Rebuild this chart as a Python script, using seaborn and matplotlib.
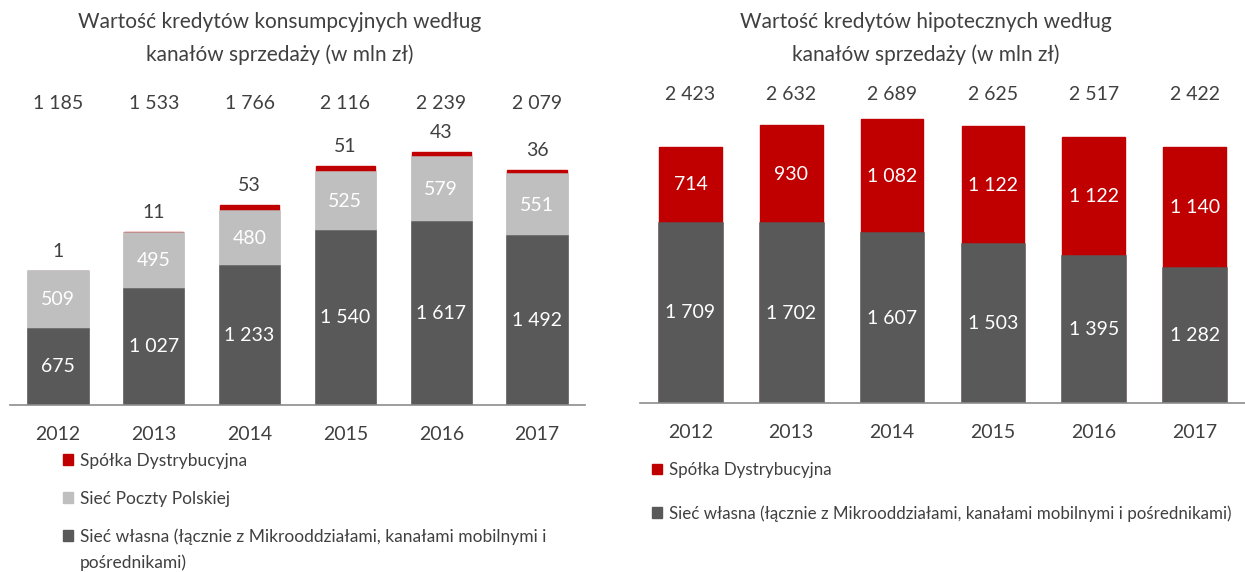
import matplotlib
matplotlib.use("Agg")
import matplotlib.pyplot as plt
import seaborn as sns
import numpy as np
from matplotlib.patches import Patch

years = ["2012", "2013", "2014", "2015", "2016", "2017"]

# kredyty konsumpcyjne
kons_wlasna = [675, 1027, 1233, 1540, 1617, 1492]
kons_poczta = [509, 495, 480, 525, 579, 551]
kons_spolka = [1, 11, 53, 51, 43, 36]
kons_total = [1185, 1533, 1766, 2116, 2239, 2079]

# kredyty hipoteczne
hip_wlasna = [1709, 1702, 1607, 1503, 1395, 1282]
hip_spolka = [714, 930, 1082, 1122, 1122, 1140]
hip_total = [2423, 2632, 2689, 2625, 2517, 2422]

RED = "#C00000"
LIGHT = "#BFBFBF"
DARK = "#595959"
TXT = "#404040"

sns.set_style("white")
plt.rcParams["font.family"] = ["Lato", "DejaVu Sans"]


def fmt(v):
    return f"{v:,}".replace(",", " ")


def style_axis(ax, ymax):
    ax.set_xlim(-0.5, 5.5)
    ax.set_ylim(0, ymax)
    for s in ["top", "left", "right"]:
        ax.spines[s].set_visible(False)
    ax.spines["bottom"].set_color("#8C8C8C")
    ax.spines["bottom"].set_linewidth(1.2)
    ax.set_yticks([])
    ax.set_xlabel("")
    ax.set_ylabel("")
    ax.set_xticks(range(6))
    ax.set_xticklabels(years, fontsize=14, color=TXT)
    ax.tick_params(axis="x", which="major", length=0, pad=15)
    ax.set_xticks(np.arange(-0.5, 6, 1), minor=True)
    ax.tick_params(axis="x", which="minor", length=7, color="#8C8C8C", width=1.2)


def bar(ax, vals, col):
    # stacked look: cumulative bars drawn back to front
    lw = 1.0 if col == RED else 1.8
    sns.barplot(x=years, y=vals, color=col, saturation=1, width=0.62, ax=ax,
                edgecolor=col, linewidth=lw)


fig = plt.figure(figsize=(12.45, 5.72), dpi=100)
W, H = 1245, 572

# ---- left chart ----
ax1 = fig.add_axes([10 / W, (H - 405) / H, 575 / W, 325 / H])
kc1 = np.array(kons_wlasna)
kc2 = kc1 + np.array(kons_poczta)
kc3 = kc2 + np.array(kons_spolka)
for vals, col in [(kc3, RED), (kc2, LIGHT), (kc1, DARK)]:
    bar(ax1, vals, col)
style_axis(ax1, 2876)
for i in range(6):
    ax1.text(i, kons_wlasna[i] / 2, fmt(kons_wlasna[i]), ha="center", va="center",
             color="white", fontsize=14)
    ax1.text(i, kc1[i] + kons_poczta[i] / 2, fmt(kons_poczta[i]), ha="center", va="center",
             color="white", fontsize=14)
    ax1.annotate(fmt(kons_spolka[i]), (i, kc3[i]), xytext=(0, 8), textcoords="offset points",
                 ha="center", va="bottom", color=TXT, fontsize=14)
    ax1.text(i, 0.929, fmt(kons_total[i]), transform=ax1.get_xaxis_transform(),
             ha="center", va="center", color=TXT, fontsize=14)

fig.text(280 / W, 1 - 22 / H, "Wartość kredytów konsumpcyjnych według", ha="center",
         va="center", fontsize=15, color=TXT)
fig.text(280 / W, 1 - 55 / H, "kanałów sprzedaży (w mln zł)", ha="center",
         va="center", fontsize=15, color=TXT)

h1 = [Patch(color=RED), Patch(color=LIGHT), Patch(color=DARK)]
l1 = ["Spółka Dystrybucyjna", "Sieć Poczty Polskiej",
      "Sieć własna (łącznie z Mikrooddziałami, kanałami mobilnymi i"]
fig.legend(h1, l1, loc="upper left", bbox_to_anchor=(63 / W, 1 - 453 / H), frameon=False,
           fontsize=12.5, labelcolor=TXT, handlelength=0.6, handleheight=0.6,
           handletextpad=0.4, labelspacing=1.25, borderpad=0, borderaxespad=0)
fig.text(80 / W, 1 - 563 / H, "pośrednikami)", ha="left", va="center",
         fontsize=12.5, color=TXT)

# ---- right chart ----
ax2 = fig.add_axes([640 / W, (H - 403) / H, 605 / W, 323 / H])
hc1 = np.array(hip_wlasna)
hc2 = hc1 + np.array(hip_spolka)
for vals, col in [(hc2, RED), (hc1, DARK)]:
    bar(ax2, vals, col)
style_axis(ax2, 3059)
for i in range(6):
    ax2.text(i, hip_wlasna[i] / 2, fmt(hip_wlasna[i]), ha="center", va="center",
             color="white", fontsize=14)
    ax2.text(i, hc1[i] + hip_spolka[i] / 2, fmt(hip_spolka[i]), ha="center", va="center",
             color="white", fontsize=14)
    ax2.text(i, 0.954, fmt(hip_total[i]), transform=ax2.get_xaxis_transform(),
             ha="center", va="center", color=TXT, fontsize=14)

fig.text(926 / W, 1 - 22 / H, "Wartość kredytów hipotecznych według", ha="center",
         va="center", fontsize=15, color=TXT)
fig.text(926 / W, 1 - 55 / H, "kanałów sprzedaży (w mln zł)", ha="center",
         va="center", fontsize=15, color=TXT)

h2 = [Patch(color=RED), Patch(color=DARK)]
l2 = ["Spółka Dystrybucyjna",
      "Sieć własna (łącznie z Mikrooddziałami, kanałami mobilnymi i pośrednikami)"]
fig.legend(h2, l2, loc="upper left", bbox_to_anchor=(652 / W, 1 - 462 / H), frameon=False,
           fontsize=12.2, labelcolor=TXT, handlelength=0.6, handleheight=0.6,
           handletextpad=0.4, labelspacing=1.6, borderpad=0, borderaxespad=0)

fig.savefig("out.png", dpi=100)
